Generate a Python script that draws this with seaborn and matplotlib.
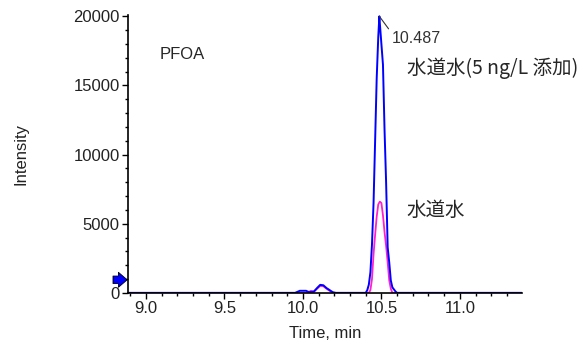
import numpy as np
import pandas as pd
import matplotlib
matplotlib.use('Agg')
import matplotlib.pyplot as plt
from matplotlib.ticker import MultipleLocator
import seaborn as sns

# chromatogram (time in min, intensity in cps)
spiked_time = [8.885, 9.95, 9.98, 10.02, 10.04, 10.07, 10.09, 10.11, 10.13, 10.15, 10.17, 10.19, 10.21,
               10.40, 10.41, 10.42, 10.43, 10.44, 10.45, 10.46, 10.47, 10.48, 10.487, 10.49, 10.50,
               10.51, 10.52, 10.53, 10.54, 10.55, 10.56, 10.57, 10.59, 10.60, 11.395]
spiked_int = [0, 0, 150, 150, 50, 100, 350, 580, 550, 350, 200, 50, 0,
              0, 200, 600, 1500, 3500, 6500, 11000, 15500, 18500, 20000, 19500, 18000,
              16500, 11800, 8000, 3300, 2200, 900, 400, 100, 0, 0]

tap_time = [8.885, 10.03, 10.05, 10.07, 10.09, 10.11, 10.13, 10.15, 10.17, 10.19,
            10.42, 10.43, 10.44, 10.45, 10.46, 10.47, 10.48, 10.49, 10.50, 10.51,
            10.52, 10.53, 10.54, 10.55, 10.56, 10.57, 11.395]
tap_int = [0, 0, 150, 80, 300, 500, 480, 300, 150, 0,
           0, 200, 1000, 2800, 4200, 5500, 6400, 6600, 6500, 5600,
           4400, 3400, 2200, 900, 300, 0, 0]

peak_rt = 10.487
peak_height = 20000

sns.set_theme(style='ticks')
plt.rcParams['font.family'] = ['Liberation Sans', 'Noto Sans CJK JP', 'DejaVu Sans']

fig = plt.figure(figsize=(5.87, 3.47), dpi=100)
ax = fig.add_axes([0.218, 0.156, 0.671, 0.801])

sns.lineplot(x=tap_time, y=tap_int, color='#ff22cc', linewidth=1.3, estimator=None, ax=ax)
sns.lineplot(x=spiked_time, y=spiked_int, color='#0000ff', linewidth=1.4, estimator=None, ax=ax)

ax.set_xlim(8.885, 11.395)
ax.set_ylim(0, 20100)
ax.xaxis.set_major_locator(MultipleLocator(0.5))
ax.xaxis.set_minor_locator(MultipleLocator(0.1))
ax.yaxis.set_major_locator(MultipleLocator(5000))
ax.yaxis.set_minor_locator(MultipleLocator(1000))
ax.xaxis.set_major_formatter(matplotlib.ticker.FormatStrFormatter('%.1f'))
ax.tick_params(which='major', length=4, width=1, labelsize=12, color='black', labelcolor='#222222', pad=2)
ax.tick_params(which='minor', length=2.5, width=1, color='black')
sns.despine(ax=ax)
for s in ['left', 'bottom']:
    ax.spines[s].set_color('black')
    ax.spines[s].set_linewidth(1.2)

ax.set_xlabel('Time, min', fontsize=12, color='#222222', labelpad=7)
ax.set_ylabel('Intensity', fontsize=12, color='#222222', labelpad=32)

ax.text(9.089, 17246, 'PFOA', fontsize=12, ha='left', va='center')
ax.text(10.662, 16231, '水道水(5 ng/L 添加)', fontsize=14, ha='left', va='center',
        family=['Noto Sans CJK JP', 'DejaVu Sans'])
ax.text(10.662, 5942, '水道水', fontsize=14, ha='left', va='center',
        family=['Noto Sans CJK JP', 'DejaVu Sans'])

ax.annotate(f'{peak_rt:.3f}', xy=(peak_rt, peak_height), xytext=(9, -16), textcoords='offset points',
            ha='left', va='center', fontsize=11.5, color='#333333',
            arrowprops=dict(arrowstyle='-', color='#333333', lw=0.8, shrinkA=0, shrinkB=0,
                            relpos=(0, 0.85)))

# threshold arrow on the y axis
ax.annotate('', xy=(-0.002, 0.047), xycoords='axes fraction', xytext=(-0.038, 0.047),
            arrowprops=dict(arrowstyle='simple,head_length=0.7,head_width=1.2,tail_width=0.6',
                            mutation_scale=9, fc='#0000ff', ec='black', lw=0.6,
                            shrinkA=0, shrinkB=0))

fig.savefig('out.png', dpi=100)
